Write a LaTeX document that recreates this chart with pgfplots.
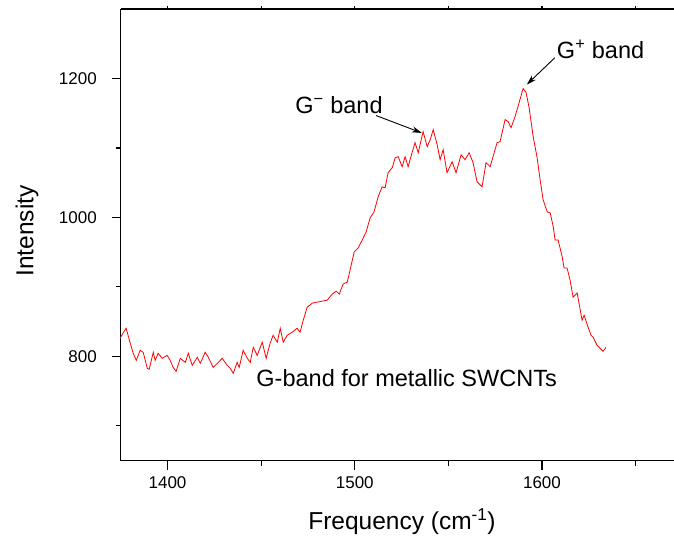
\documentclass[border=0pt]{standalone}
\usepackage{pgfplots}
\pgfplotsset{compat=1.18}
\usepackage{fontspec}
\setmainfont{Liberation Sans}
\usetikzlibrary{arrows.meta}

\pgfplotstableread{
x y
1374.7 826.0
1376.2 833.2
1377.9 840.4
1380.1 818.8
1381.7 804.3
1383.3 794.2
1385.4 808.7
1387.0 805.8
1389.2 782.7
1390.2 781.2
1392.4 805.8
1393.4 794.2
1395.0 804.3
1397.2 797.1
1399.8 801.4
1401.4 794.2
1403.0 784.1
1404.6 778.3
1406.8 797.1
1409.5 791.3
1411.1 804.3
1413.2 787.0
1415.9 798.6
1417.5 789.9
1420.1 805.8
1421.8 798.6
1424.4 784.1
1427.1 791.3
1429.2 797.1
1431.9 787.0
1433.5 782.7
1435.1 775.5
1437.2 791.3
1438.3 784.1
1440.4 808.7
1442.6 797.1
1444.2 791.3
1445.8 813.0
1447.9 801.4
1450.6 820.2
1452.7 797.1
1454.8 818.8
1456.4 830.3
1458.6 820.2
1460.2 840.4
1461.8 820.2
1463.9 830.3
1466.6 834.7
1469.2 840.4
1470.8 834.7
1472.5 852.0
1474.6 870.8
1477.3 876.5
1479.9 878.0
1482.6 879.4
1485.3 880.9
1487.9 889.5
1490.1 893.9
1491.7 889.5
1493.8 904.0
1496.0 906.9
1497.5 924.2
1499.7 950.2
1501.8 956.0
1504.0 967.5
1506.1 979.1
1508.2 999.3
1510.3 1007.9
1512.5 1029.6
1514.6 1044.0
1516.2 1042.6
1517.8 1064.3
1520.0 1071.5
1521.6 1085.9
1523.2 1087.4
1525.3 1072.9
1526.9 1087.4
1528.5 1072.9
1530.6 1093.1
1532.2 1107.6
1533.9 1093.1
1536.5 1123.5
1538.7 1101.8
1540.3 1111.9
1541.9 1126.3
1544.0 1104.7
1545.6 1083.0
1547.2 1097.5
1549.3 1064.3
1552.0 1080.1
1554.1 1064.3
1556.8 1090.2
1558.9 1083.0
1561.1 1093.1
1563.2 1078.7
1565.3 1051.3
1568.0 1044.0
1570.1 1078.7
1572.3 1072.9
1576.0 1107.6
1577.6 1109.0
1580.3 1140.8
1581.9 1137.9
1583.5 1129.2
1585.6 1145.1
1587.2 1159.6
1589.9 1185.5
1591.5 1179.8
1593.1 1158.1
1595.3 1116.2
1597.4 1085.9
1599.0 1054.1
1600.6 1025.3
1602.8 1007.9
1604.4 1006.5
1606.0 986.3
1607.0 967.5
1608.6 967.5
1610.8 943.0
1611.8 927.1
1613.4 927.1
1615.0 909.7
1616.6 885.2
1618.8 891.0
1621.4 852.0
1622.5 859.2
1624.6 841.9
1626.2 830.3
1627.3 827.4
1629.4 815.9
1631.0 811.6
1632.6 807.2
1634.2 813.0
}\spectrum

\begin{document}
\begin{tikzpicture}
\useasboundingbox (-120.7pt,-80.5pt) rectangle (553.3pt,460.5pt);
% top axis with short ticks
\begin{axis}[
  at={(0pt,0pt)}, anchor=south west,
  scale only axis, width=553.3pt, height=451.5pt,
  xmin=1375, xmax=1670.5, ymin=650, ymax=1300,
  axis x line*=top, hide y axis,
  axis line style={-, line width=1.5pt},
  xtick={1400,1500,1600}, minor xtick={1450,1550,1650},
  xticklabels={},
  tick align=outside,
  major tick length=2.5pt, minor tick length=2.5pt,
  every tick/.style={black, line width=1.2pt},
]
\end{axis}
% main axis
\begin{axis}[
  at={(0pt,0pt)}, anchor=south west,
  scale only axis, width=553.3pt, height=451.5pt,
  xmin=1375, xmax=1670.5, ymin=650, ymax=1300,
  axis x line*=bottom, axis y line*=left,
  axis line style={-, line width=1.5pt},
  xtick={1400,1500,1600}, minor xtick={1450,1550,1650},
  ytick={800,1000,1200}, minor ytick={700,900,1100},
  tick align=outside,
  major tick length=9pt, minor tick length=5pt,
  every tick/.style={black, line width=1.2pt},
  /pgf/number format/assume math mode=true,
  /pgf/number format/1000 sep={},
  tick label style={font=\fontsize{17}{20}\selectfont},
  xticklabel style={anchor=base, inner sep=0pt, yshift=-18.5pt},
  yticklabel style={anchor=east, inner sep=0pt, xshift=-14.7pt},
  clip=false,
]
\addplot[red, line width=0.8pt, mark=none] table[x=x, y=y] {\spectrum};
\draw[black, line width=0.9pt, -{Stealth[length=10pt, width=6pt]}] (axis cs:1511.4,1146.6) -- (axis cs:1535.8,1121.6);
\draw[black, line width=0.9pt, -{Stealth[length=10pt, width=6pt]}] (axis cs:1606.9,1229.9) -- (axis cs:1591.9,1191.3);
\node[anchor=base west, inner sep=0pt, font=\fontsize{23.5}{28}\selectfont] at (axis cs:1468.2,1149.4) {G\textsuperscript{−} band};
\node[anchor=base west, inner sep=0pt, font=\fontsize{23.5}{28}\selectfont] at (axis cs:1607.9,1228.4) {G\textsuperscript{+} band};
\node[anchor=base west, inner sep=0pt, font=\fontsize{23.5}{28}\selectfont] at (axis cs:1447.4,756.7) {G-band for metallic SWCNTs};
\end{axis}
\node[rotate=90, inner sep=0pt, font=\fontsize{24.5}{29}\selectfont] at (-93.7pt,229.5pt) {Intensity};
\node[inner sep=0pt, font=\fontsize{24.5}{29}\selectfont] at (281.3pt,-61.5pt) {Frequency (cm\textsuperscript{-1})};
\end{tikzpicture}
\end{document}
